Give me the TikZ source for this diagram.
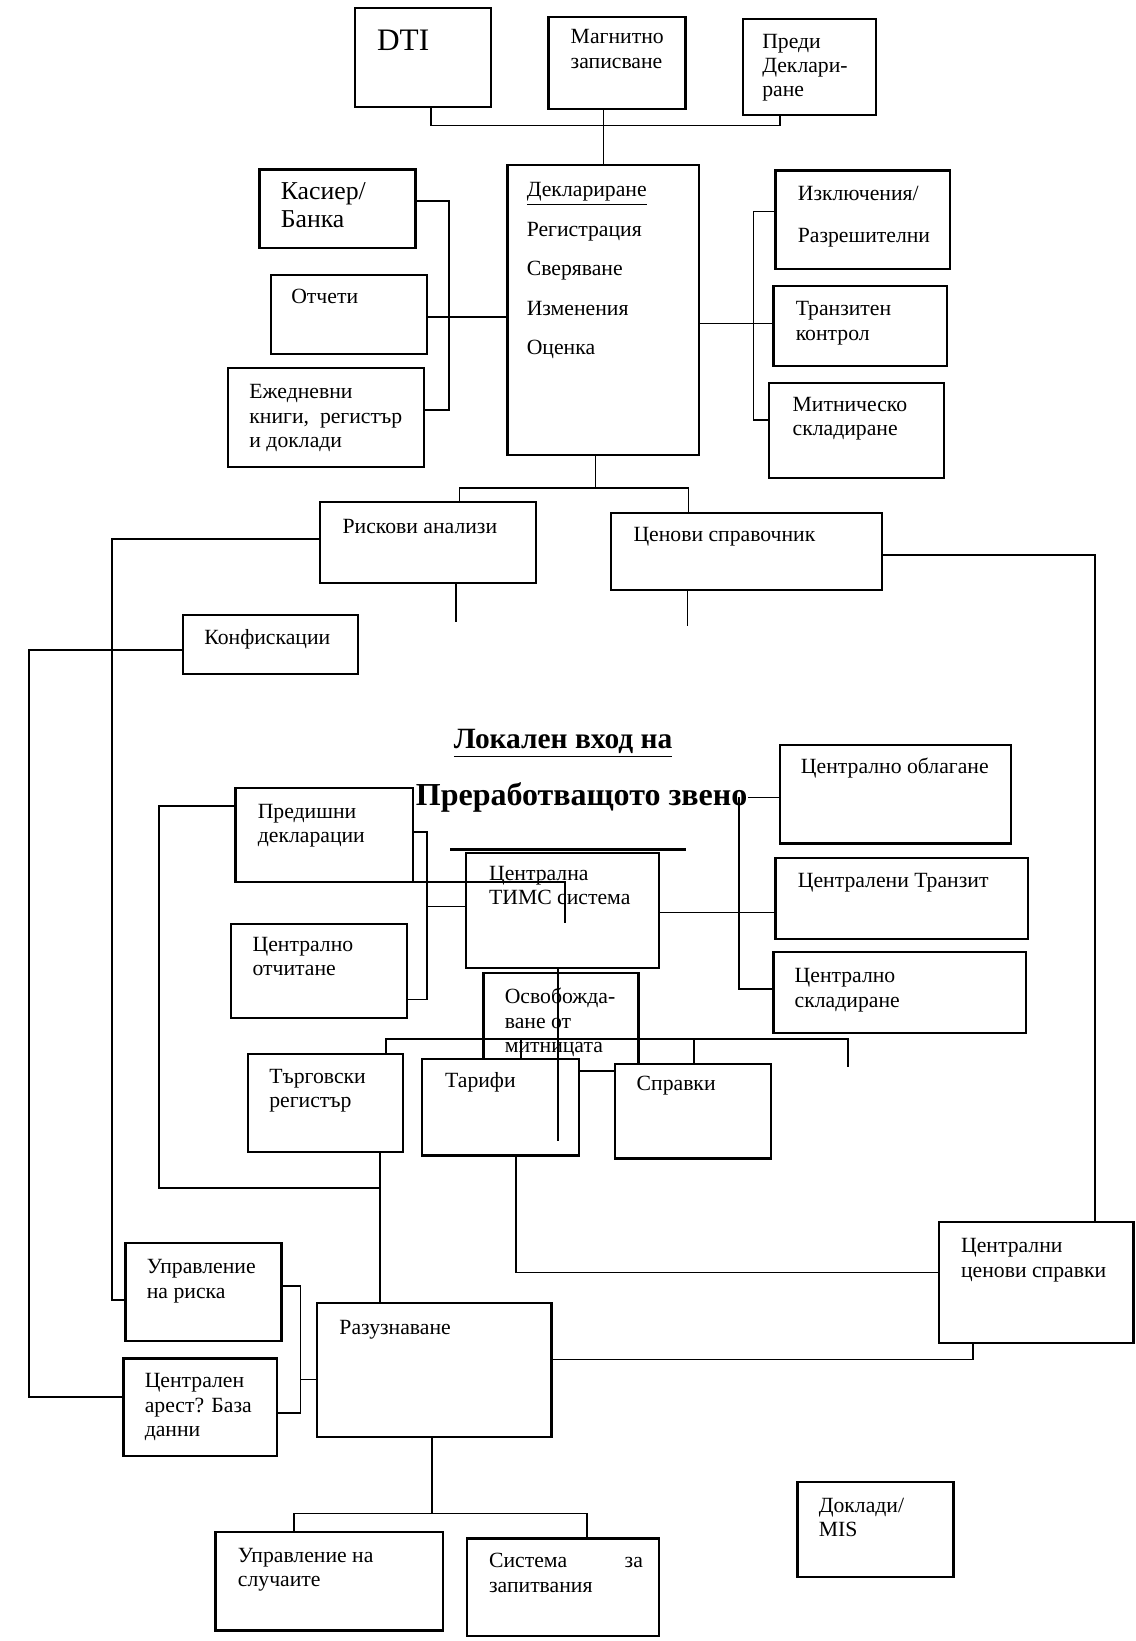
\documentclass[tikz,border=0pt]{standalone}
\usepackage{fontspec}
\setmainfont{Liberation Serif}
\usepackage{tikz}
\usetikzlibrary{positioning,fit,calc}

\begin{document}
\begin{tikzpicture}[
	x=0.2mm, y=-0.2mm,
	font=\fontsize{11.8}{13.3}\selectfont,
	% Style for the boxes
	box/.style={draw, line width=1.2pt, fill=white, inner sep=0pt},
	% Style for the text inside a box (top left)
	txt/.style={anchor=north west, inner sep=0pt, align=left},
	% Style for the connecting lines
	conn/.style={line width=0.9pt},
	big/.style={font=\fontsize{14}{15.5}\selectfont},
	wide/.style={font=\fontsize{11.8}{21.5}\selectfont}
	]
	\useasboundingbox (0,0) rectangle (1085,1568);
	
	% ================= Top row =================
	\node[box, fit={(339,8) (469,102)}] (dti) {};
	\node[txt, font=\fontsize{17}{19}\selectfont] (dti-t) at (360,28) {DTI};
	\node[box, fit={(524,16) (655,104)}] (magn) {};
	\node[txt] (magn-t) at (545,28) {Магнитно\\записване};
	\node[box, fit={(710,18) (837,110)}] (predi) {};
	\node[txt] (predi-t) at (728,32) {Преди\\Деклари-\\ране};
	
	% ================= Declaration block =================
	\node[box, fit={(485,158) (668,435)}] (decl) {};
	\node[txt, wide] (decl-t) at (503,174) {\underline{Деклариране}\\Регистрация\\Сверяване\\Изменения\\Оценка};
	
	\node[box, fit={(248,162) (397,237)}] (kas) {};
	\node[txt, big] (kas-t) at (268,174) {Касиер/\\Банка};
	\node[box, fit={(259,263) (408,338)}] (otch) {};
	\node[txt] (otch-t) at (278,276) {Отчети};
	\node[box, fit={(218,352) (405,446)}] (ezh) {};
	\node[txt] (ezh-t) at (238,367) {Ежедневни\\книги,\ \ регистър\\и доклади};
	
	\node[box, fit={(741,163) (908,257)}] (izkl) {};
	\node[txt, font=\fontsize{11.8}{22.7}\selectfont] (izkl-t) at (762,178) {Изключения/\\Разрешителни};
	\node[box, fit={(739,273) (905,350)}] (tranz) {};
	\node[txt] (tranz-t) at (760,288) {Транзитен\\контрол};
	\node[box, fit={(735,366) (902,457)}] (skl) {};
	\node[txt] (skl-t) at (757,379) {Митническо\\складиране};
	
	% ================= Risk and price =================
	\node[box, fit={(306,480) (512,557)}] (risk) {};
	\node[txt] (risk-t) at (327,496) {Рискови анализи};
	\node[box, fit={(584,490) (843,564)}] (cen) {};
	\node[txt] (cen-t) at (605,503) {Ценови справочник};
	\node[box, fit={(175,588) (342,644)}] (konf) {};
	\node[txt] (konf-t) at (195,601) {Конфискации};
	
	% ================= Title =================
	\node[font=\fontsize{16}{18}\selectfont\bfseries, inner sep=0pt] (ttl1) at (538,710) {\underline{Локален вход на}};
	\node[anchor=west, font=\fontsize{17.4}{20}\selectfont\bfseries, inner sep=0pt] (ttl2) at (397,762) {Преработващото звено};
	
	% ================= Central part =================
	\node[box, fit={(745,712) (966,806)}] (obl) {};
	\node[txt] (obl-t) at (765,724) {Централно облагане};
	\node[box, fit={(741,820) (982,897)}] (ctr) {};
	\node[txt] (ctr-t) at (762,834) {Централени Транзит};
	\node[box, fit={(739,910) (980,987)}] (csk) {};
	\node[txt] (csk-t) at (759,925) {Централно\\складиране};
	\node[box, fit={(225,753) (395,843)}] (pred) {};
	\node[txt] (pred-t) at (246,768) {Предишни\\декларации};
	\node[box, fit={(445,815) (630,925)}] (tims) {};
	\node[txt] (tims-t) at (467,827) {Централна\\ТИМС система};
	\node[box, fit={(221,883) (389,973)}] (otchit) {};
	\node[txt] (otchit-t) at (241,895) {Централно\\отчитане};
	\node[box, fit={(462,930) (610,1023)}] (osv) {};
	\node[txt] (osv-t) at (482,944) {Освобожда-\\ване от\\митницата};
	\node[box, fit={(237,1007) (385,1101)}] (targ) {};
	\node[txt] (targ-t) at (257,1021) {Търговски\\регистър};
	\node[box, fit={(403,1012) (553,1104)}] (tar) {};
	\node[txt] (tar-t) at (425,1024) {Тарифи};
	\node[box, fit={(588,1017) (737,1107)}] (spr) {};
	\node[txt] (spr-t) at (608,1028) {Справки};
	
	% ================= Bottom part =================
	\node[box, fit={(897,1168) (1083,1283)}] (ccs) {};
	\node[txt] (ccs-t) at (918,1183) {Централни\\ценови справки};
	\node[box, fit={(120,1188) (269,1281)}] (urisk) {};
	\node[txt] (urisk-t) at (140,1203) {Управление\\на риска};
	\node[box, fit={(303,1245) (527,1373)}] (razu) {};
	\node[txt] (razu-t) at (324,1261) {Разузнаване};
	\node[box, fit={(118,1298) (265,1391)}] (arest) {};
	\node[txt] (arest-t) at (138,1312) {Централен\\арест? База\\данни};
	\node[box, fit={(206,1464) (423,1558)}] (slu) {};
	\node[txt] (slu-t) at (227,1479) {Управление на\\случаите};
	\node[box, fit={(446,1470) (630,1563)}] (zap) {};
	\node[txt] (zap-t) at (467,1484) {Система\hspace{11mm}за\\запитвания};
	\node[box, fit={(762,1416) (911,1507)}] (mis) {};
	\node[txt] (mis-t) at (782,1431) {Доклади/\\MIS};
	
	% ================= Connectors: top =================
	\coordinate (b1) at (412,120); \coordinate (b2) at (745,120);
	\draw[conn] (dti.south -| b1) -- (b1) -- (b2) -- (predi.south -| b2);
	\draw[conn] (magn.south -| decl.north) -- (decl.north);
	
	\coordinate (l1) at (429,192); \coordinate (l2) at (429,392); \coordinate (l3) at (0,303);
	\draw[conn] (kas.east |- l1) -- (l1) -- (l2) -- (ezh.east |- l2);
	\draw[conn] (otch.east |- l3) -- (decl.west |- l3);
	
	\coordinate (r1) at (720,202); \coordinate (r2) at (720,401); \coordinate (r3) at (0,309);
	\draw[conn] (izkl.west |- r1) -- (r1) -- (r2) -- (skl.west |- r2);
	\draw[conn] (decl.east |- r3) -- (tranz.west |- r3);
	
	\coordinate (m1) at (569,466); \coordinate (m2) at (439,466); \coordinate (m3) at (658,466);
	\draw[conn] (decl.south -| m1) -- (m1);
	\draw[conn] (risk.north -| m2) -- (m2) -- (m3) -- (cen.north -| m3);
	
	\coordinate (s1) at (436,594); \coordinate (s2) at (657,598);
	\draw[conn] (risk.south -| s1) -- (s1);
	\draw[conn] (cen.south -| s2) -- (s2);
	
	% ================= Connectors: long loops =================
	\coordinate (k1) at (107,515); \coordinate (k2) at (107,1242);
	\draw[conn] (risk.west |- k1) -- (k1) -- (k2) -- (urisk.west |- k2);
	\coordinate (k3) at (1046,530);
	\draw[conn] (cen.east |- k3) -- (k3) -- (ccs.north -| k3);
	\coordinate (k4) at (28,621); \coordinate (k5) at (28,1335);
	\draw[conn] (konf.west |- k4) -- (k4) -- (k5) -- (arest.west |- k5);
	
	% ================= Connectors: central =================
	\coordinate (c2) at (706,945); \coordinate (c3) at (0,872);
	\draw[conn] (ttl2.east) -- (obl.west |- ttl2.east);
	\draw[conn] (ttl2.east -| c2) -- (c2) -- (csk.west |- c2);
	\draw[conn] (tims.east |- c3) -- (ctr.west |- c3);
	
	\coordinate (p1) at (152,770); \coordinate (p2) at (152,1135); \coordinate (p3) at (363,1135);
	\draw[conn] (pred.west |- p1) -- (p1) -- (p2) -- (p3);
	\draw[conn] (targ.south -| p3) -- (razu.north -| p3);
	\coordinate (p4) at (408,795); \coordinate (p5) at (408,955); \coordinate (p6) at (408,866);
	\draw[conn] (pred.east |- p4) -- (p4) -- (p5) -- (otchit.east |- p5);
	\draw[conn] (p6) -- (tims.west |- p6);
	
	\coordinate (a1) at (335,843); \coordinate (a2) at (540,843); \coordinate (a3) at (540,882);
	\draw[conn] (a1) -- (a2) -- (a3);
	\coordinate (a4) at (430,812); \coordinate (a5) at (655,812);
	\draw[line width=1.6pt] (a4) -- (a5);
	
	\coordinate (t1) at (533,1090);
	\draw[conn] (tims.south -| t1) -- (t1);
	
	\coordinate (u1) at (369,993); \coordinate (u2) at (810,993); \coordinate (u3) at (810,1020);
	\coordinate (u4) at (498,993); \coordinate (u5) at (663,993);
	\draw[conn] (targ.north -| u1) -- (u1) -- (u2) -- (u3);
	\draw[conn] (u4) -- (tar.north -| u4);
	\draw[conn] (u5) -- (spr.north -| u5);
	
	% ================= Connectors: bottom =================
	\coordinate (v1) at (493,1216); \coordinate (v2) at (930,1299);
	\draw[conn] (tar.south -| v1) -- (v1) -- (ccs.west |- v1);
	\draw[conn] (ccs.south -| v2) -- (v2) -- (razu.east |- v2);
	
	\coordinate (w1) at (287,1229); \coordinate (w2) at (287,1350); \coordinate (w3) at (287,1318);
	\draw[conn] (urisk.east |- w1) -- (w1) -- (w2) -- (arest.east |- w2);
	\draw[conn] (w3) -- (razu.west |- w3);
	
	\coordinate (z1) at (413,1446); \coordinate (z2) at (281,1446); \coordinate (z3) at (561,1446);
	\draw[conn] (razu.south -| z1) -- (z1);
	\draw[conn] (slu.north -| z2) -- (z2) -- (z3) -- (zap.north -| z3);
	
\end{tikzpicture}
\end{document}
